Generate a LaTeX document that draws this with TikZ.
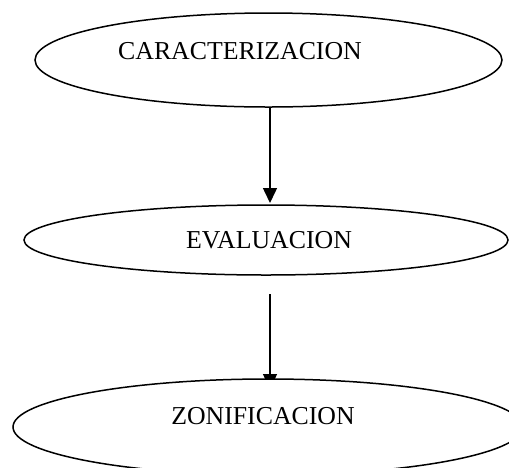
\documentclass[tikz,border=0pt]{standalone}
\usepackage{fontspec}
\setmainfont{Liberation Serif}
\usetikzlibrary{shapes.geometric,arrows.meta,backgrounds}
\tikzset{
  oval/.style={ellipse,draw=black,fill=white,line width=1.5pt,inner sep=0pt},
  lbl/.style={anchor=base,inner sep=0pt,font=\fontsize{25.8}{30}\selectfont},
  conn/.style={line width=1.5pt,-{Triangle[length=15pt,width=14pt]}}
}
\begin{document}
\begin{tikzpicture}[x=1pt,y=-1pt]
\useasboundingbox (0,0) rectangle (509,467);
\node[oval,minimum width=467pt,minimum height=94pt] (car) at (268.5,60) {};
\node[oval,minimum width=484pt,minimum height=70pt] (eva) at (266,240) {};
\node[oval,minimum width=510pt,minimum height=96pt] (zon) at (268,427) {};
\node[lbl] (tcar) at (240,59) {CARACTERIZACION};
\node[lbl] (teva) at (269,248) {EVALUACION};
\node[lbl] (tzon) at (263,424) {ZONIFICACION};
\coordinate (a1s) at (270,107);
\coordinate (a1e) at (270,203);
\coordinate (a2s) at (270,294);
\coordinate (a2e) at (270,389);
\begin{scope}[on background layer]
\draw[conn] (a1s) -- (a1e);
\draw[conn] (a2s) -- (a2e);
\end{scope}
\end{tikzpicture}
\end{document}
